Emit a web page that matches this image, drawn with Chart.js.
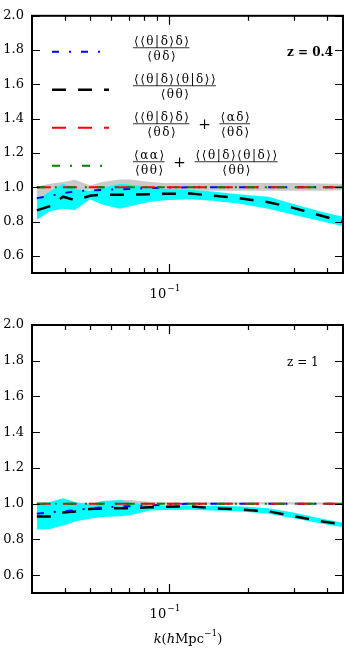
<!DOCTYPE html>
<html>
<head>
<meta charset="utf-8">
<script src="https://cdn.jsdelivr.net/npm/chart.js@4"></script>
<style>
body { margin: 0; background: #fff; width: 346px; height: 651px; position: relative; overflow: hidden; }
canvas { position: absolute; left: 0; }
#topChart { top: 0; }
#bottomChart { top: 300px; }
</style>
</head>
<body>
<canvas id="topChart" width="346" height="300"></canvas>
<canvas id="bottomChart" width="346" height="351"></canvas>
<script>
// wavenumbers k (h/Mpc)
const k = [0.0313, 0.0351, 0.0394, 0.0438, 0.0499, 0.0555, 0.065, 0.071, 0.0846, 0.0966, 0.12, 0.146, 0.183, 0.239, 0.297, 0.384, 0.46];
const yTicks = [0.6, 0.8, 1.0, 1.2, 1.4, 1.6, 1.8, 2.0];
const xMinorTicks = [0.04, 0.05, 0.06, 0.07, 0.08, 0.09, 0.2, 0.3, 0.4];
const xMajorTicks = [0.1];

// z = 0.4
const blueTop  = [0.937, 0.95, 0.965, 0.977, 0.982, 0.985, 0.988, 0.99, 0.995, 0.998, 1.0, 1.0, 1.0, 1.0, 1.0, 1.0, 1.0];
const blackTop = [0.865, 0.89, 0.945, 0.925, 0.95, 0.957, 0.957, 0.957, 0.96, 0.962, 0.963, 0.952, 0.937, 0.913, 0.88, 0.832, 0.80];
const redTop   = [1.0, 1.0, 1.0, 1.0, 1.0, 1.0, 1.0, 1.0, 1.0, 1.0, 1.0, 1.0, 1.0, 1.0, 1.0, 1.0, 1.0];
const greenTop = [1.0, 1.0, 1.0, 1.0, 1.0, 1.0, 1.0, 1.0, 1.0, 1.0, 1.0, 1.0, 1.0, 1.0, 1.0, 1.0, 1.0];
const cyanHiTop = [0.93, 0.975, 1.02, 0.99, 0.98, 0.995, 1.02, 1.015, 1.0, 0.99, 0.985, 0.975, 0.96, 0.944, 0.903, 0.856, 0.828];
const cyanLoTop = [0.81, 0.86, 0.875, 0.868, 0.93, 0.9, 0.875, 0.89, 0.915, 0.925, 0.93, 0.922, 0.905, 0.875, 0.84, 0.8, 0.772];
const grayHiTop = [1.005, 1.02, 1.03, 1.044, 1.01, 1.03, 1.045, 1.045, 1.03, 1.025, 1.025, 1.025, 1.027, 1.025, 1.025, 1.022, 1.02];
const grayLoTop = [0.945, 0.96, 0.985, 0.985, 0.985, 0.985, 0.983, 0.983, 0.983, 0.982, 0.98, 0.98, 0.98, 0.98, 0.98, 0.98, 0.982];

// z = 1
const blueBot  = [0.944, 0.952, 0.958, 0.962, 0.975, 0.978, 0.985, 0.986, 0.99, 0.995, 1.0, 1.0, 1.0, 1.0, 1.0, 1.0, 1.0];
const blackBot = [0.928, 0.928, 0.95, 0.956, 0.97, 0.973, 0.975, 0.975, 0.98, 0.982, 0.985, 0.975, 0.968, 0.957, 0.93, 0.9, 0.885];
const redBot   = [1.0, 1.0, 1.0, 1.0, 1.0, 1.0, 1.0, 1.0, 1.0, 1.0, 1.0, 1.0, 1.0, 1.0, 1.0, 1.0, 1.0];
const greenBot = [1.0, 1.0, 1.0, 1.0, 1.0, 1.0, 1.0, 1.0, 1.0, 1.0, 1.0, 1.0, 1.0, 1.0, 1.0, 1.0, 1.0];
const cyanHiBot = [1.005, 1.01, 1.03, 1.01, 0.995, 1.015, 1.02, 1.005, 0.995, 0.99, 0.99, 0.988, 0.985, 0.975, 0.95, 0.915, 0.893];
const cyanLoBot = [0.855, 0.858, 0.878, 0.9, 0.915, 0.925, 0.93, 0.935, 0.962, 0.965, 0.966, 0.962, 0.957, 0.944, 0.918, 0.887, 0.868];
const grayHiBot = [1.005, 1.005, 1.005, 1.005, 1.005, 1.01, 1.02, 1.02, 1.01, 1.008, 1.008, 1.008, 1.008, 1.008, 1.008, 1.006, 1.005];
const grayLoBot = [0.995, 0.995, 0.995, 0.995, 0.995, 0.995, 0.995, 0.995, 0.995, 0.995, 0.995, 0.995, 0.995, 0.995, 0.995, 0.995, 0.995];

// legend: [numerator, denominator] pairs per entry
const legendLabels = [
    [['⟨⟨θ|δ⟩δ⟩', '⟨θδ⟩']],
    [['⟨⟨θ|δ⟩⟨θ|δ⟩⟩', '⟨θθ⟩']],
    [['⟨⟨θ|δ⟩δ⟩', '⟨θδ⟩'], ['⟨αδ⟩', '⟨θδ⟩']],
    [['⟨αα⟩', '⟨θθ⟩'], ['⟨⟨θ|δ⟩⟨θ|δ⟩⟩', '⟨θθ⟩']]
];
const lineColors = ['#0000ff', '#000000', '#ff0000', '#008000'];
const lineDashes = [[7, 10, 2, 10], [14, 12], [14, 12], [8, 10, 2, 10]];

const SERIF = '"DejaVu Serif", serif';
const pts = arr => k.map((x, i) => ({ x: x, y: arr[i] }));

function frac(ctx, x, yBar, num, den) {
    const w = Math.max(ctx.measureText(num).width, ctx.measureText(den).width);
    ctx.textAlign = 'left';
    ctx.fillText(num, x + (w - ctx.measureText(num).width) / 2 + 1, yBar - 3);
    ctx.fillText(den, x + (w - ctx.measureText(den).width) / 2 + 1, yBar + 12);
    ctx.fillRect(x, yBar - 0.4, w, 0.8);
    return x + w;
}

const framePlugin = {
    id: 'frame',
    afterDatasetsDraw(chart, args, o) {
        const ctx = chart.ctx, a = chart.chartArea;
        const xs = chart.scales.x, ys = chart.scales.y;
        ctx.save();
        ctx.strokeStyle = '#000';
        ctx.lineWidth = 1.2;
        ctx.beginPath();
        yTicks.forEach(v => {
            const y = Math.round(ys.getPixelForValue(v)) + 0.5;
            ctx.moveTo(a.left, y); ctx.lineTo(a.left + 8, y);
            ctx.moveTo(a.right, y); ctx.lineTo(a.right - 8, y);
        });
        xMinorTicks.forEach(v => {
            const x = Math.round(xs.getPixelForValue(v)) + 0.5;
            ctx.moveTo(x, a.bottom); ctx.lineTo(x, a.bottom - 5);
            ctx.moveTo(x, a.top); ctx.lineTo(x, a.top + 5);
        });
        xMajorTicks.forEach(v => {
            const x = Math.round(xs.getPixelForValue(v)) + 0.5;
            ctx.moveTo(x, a.bottom); ctx.lineTo(x, a.bottom - 9);
            ctx.moveTo(x, a.top); ctx.lineTo(x, a.top + 9);
        });
        ctx.stroke();
        ctx.lineWidth = 2;
        ctx.strokeRect(a.left, a.top, a.right - a.left, a.bottom - a.top);

        // x tick label 10^-1
        ctx.fillStyle = '#000';
        const x0 = xs.getPixelForValue(0.1);
        ctx.font = '13px ' + SERIF;
        ctx.textAlign = 'right';
        ctx.fillText('10', x0 - 3, a.bottom + 25);
        ctx.font = '9px ' + SERIF;
        ctx.textAlign = 'left';
        ctx.fillText('−1', x0 - 2, a.bottom + 18);

        // redshift label
        ctx.font = o.zBold ? 'bold 12px ' + SERIF : '12px ' + SERIF;
        ctx.fillText(o.z, 287, a.top + o.zOffset);

        if (o.legend) {
            legendLabels.forEach((parts, i) => {
                const yl = a.top + 36 + i * 38;
                ctx.strokeStyle = lineColors[i];
                ctx.lineWidth = i === 1 ? 2.5 : 2;
                ctx.setLineDash(lineDashes[i]);
                ctx.beginPath();
                ctx.moveTo(52, yl); ctx.lineTo(109, yl);
                ctx.stroke();
                ctx.setLineDash([]);
                ctx.fillStyle = '#000';
                ctx.font = '12px ' + SERIF;
                ctx.letterSpacing = '1.5px';
                let x = 133;
                parts.forEach((p, j) => {
                    if (j > 0) {
                        ctx.font = '15px ' + SERIF;
                        ctx.letterSpacing = '0px';
                        ctx.textAlign = 'center';
                        ctx.fillText('+', x + 15, yl + 1);
                        ctx.font = '12px ' + SERIF;
                        ctx.letterSpacing = '1.5px';
                        x += 30;
                    }
                    x = frac(ctx, x, yl - 4, p[0], p[1]);
                });
                ctx.letterSpacing = '0px';
            });
        }

        if (o.xTitle) {
            const yb = a.bottom + 50;
            const segs = [['italic 13px ', 'k', 0], ['13px ', '(', 0], ['italic 13px ', 'h', 0], ['13px ', 'Mpc', 0], ['9px ', '−1', -7], ['13px ', ')', 0]];
            let total = 0;
            segs.forEach(s => { ctx.font = s[0] + SERIF; total += ctx.measureText(s[1]).width; });
            let x = 188 - total / 2;
            ctx.textAlign = 'left';
            segs.forEach(s => {
                ctx.font = s[0] + SERIF;
                ctx.fillText(s[1], x, yb + s[2]);
                x += ctx.measureText(s[1]).width;
            });
        }
        ctx.restore();
    }
};

function makePanel(id, d, pad, opts) {
    const band = (data, color, fill, order) => ({
        data: pts(data), borderWidth: 0, pointRadius: 0, fill: fill,
        backgroundColor: color, order: order
    });
    const line = (data, i, order) => ({
        data: pts(data), borderColor: lineColors[i], borderDash: lineDashes[i],
        borderWidth: i === 1 ? 2.5 : 2, pointRadius: 0, fill: false, order: order
    });
    new Chart(document.getElementById(id).getContext('2d'), {
        type: 'line',
        data: {
            datasets: [
                band(d.grayHi, '#cacaca', '+1', 10),
                band(d.grayLo, '#cacaca', false, 10),
                band(d.cyanHi, '#00ffff', '+1', 9),
                band(d.cyanLo, '#00ffff', false, 9),
                line(d.black, 1, 4),
                line(d.blue, 0, 3),
                line(d.red, 2, 2),
                line(d.green, 3, 1)
            ]
        },
        options: {
            responsive: false,
            animation: false,
            events: [],
            layout: { padding: pad },
            plugins: {
                legend: { display: false },
                tooltip: { enabled: false },
                frame: opts
            },
            scales: {
                x: { type: 'logarithmic', min: 0.03, max: 0.46, display: false },
                y: {
                    min: 0.5, max: 2.0,
                    afterBuildTicks: s => { s.ticks = yTicks.map(v => ({ value: v })); },
                    afterFit: s => { s.width = 32; },
                    grid: { display: false, drawTicks: false },
                    border: { display: false },
                    ticks: {
                        color: '#000', padding: 8,
                        font: { family: SERIF, size: 13 },
                        callback: v => v.toFixed(1)
                    }
                }
            }
        },
        plugins: [framePlugin]
    });
}

makePanel('topChart', {
    blue: blueTop, black: blackTop, red: redTop, green: greenTop,
    cyanHi: cyanHiTop, cyanLo: cyanLoTop, grayHi: grayHiTop, grayLo: grayLoTop
}, { top: 7, right: 3, bottom: 27, left: 0 }, { z: 'z = 0.4', zBold: true, zOffset: 40, legend: true, xTitle: false });

makePanel('bottomChart', {
    blue: blueBot, black: blackBot, red: redBot, green: greenBot,
    cyanHi: cyanHiBot, cyanLo: cyanLoBot, grayHi: grayHiBot, grayLo: grayLoBot
}, { top: 25, right: 3, bottom: 58, left: 0 }, { z: 'z = 1', zBold: false, zOffset: 41, legend: false, xTitle: true });
</script>
</body>
</html>
